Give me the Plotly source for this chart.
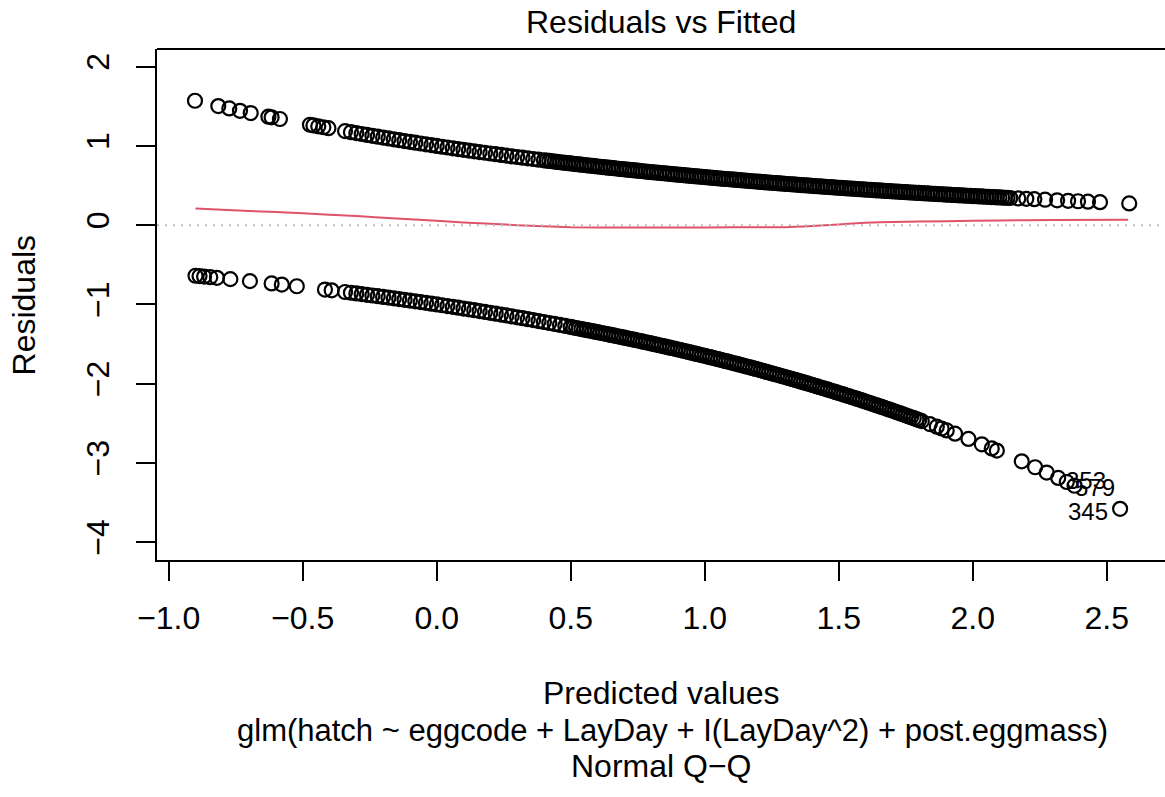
import plotly.graph_objects as go

# ---- data ----
upper_fitted = [
    -0.902, -0.815, -0.774, -0.734, -0.694, -0.628, -0.616, -0.585, -0.473, -0.460,
    -0.442, -0.423, -0.404, -0.342, -0.32, -0.30, -0.28, -0.26, -0.24, -0.22,
    -0.20, -0.18, -0.16, -0.14, -0.12, -0.10, -0.08, -0.06, -0.04, -0.02,
    0.00, 0.02, 0.04, 0.06, 0.08, 0.10, 0.12, 0.14, 0.16, 0.18,
    0.20, 0.22, 0.24, 0.26, 0.28, 0.30, 0.32, 0.34, 0.36, 0.38,
    0.40, 0.41, 0.42, 0.43, 0.44, 0.45, 0.46, 0.47, 0.48, 0.49,
    0.50, 0.51, 0.52, 0.53, 0.54, 0.55, 0.56, 0.57, 0.58, 0.59,
    0.60, 0.61, 0.62, 0.63, 0.64, 0.65, 0.66, 0.67, 0.68, 0.69,
    0.70, 0.71, 0.72, 0.73, 0.74, 0.75, 0.76, 0.77, 0.78, 0.79,
    0.80, 0.81, 0.82, 0.83, 0.84, 0.85, 0.86, 0.87, 0.88, 0.89,
    0.90, 0.91, 0.92, 0.93, 0.94, 0.95, 0.96, 0.97, 0.98, 0.99,
    1.00, 1.01, 1.02, 1.03, 1.04, 1.05, 1.06, 1.07, 1.08, 1.09,
    1.10, 1.11, 1.12, 1.13, 1.14, 1.15, 1.16, 1.17, 1.18, 1.19,
    1.20, 1.21, 1.22, 1.23, 1.24, 1.25, 1.26, 1.27, 1.28, 1.29,
    1.30, 1.31, 1.32, 1.33, 1.34, 1.35, 1.36, 1.37, 1.38, 1.39,
    1.40, 1.41, 1.42, 1.43, 1.44, 1.45, 1.46, 1.47, 1.48, 1.49,
    1.50, 1.51, 1.52, 1.53, 1.54, 1.55, 1.56, 1.57, 1.58, 1.59,
    1.60, 1.61, 1.62, 1.63, 1.64, 1.65, 1.66, 1.67, 1.68, 1.69,
    1.70, 1.71, 1.72, 1.73, 1.74, 1.75, 1.76, 1.77, 1.78, 1.79,
    1.80, 1.81, 1.82, 1.83, 1.84, 1.85, 1.86, 1.87, 1.88, 1.89,
    1.90, 1.91, 1.92, 1.93, 1.94, 1.95, 1.96, 1.97, 1.98, 1.99,
    2.00, 2.01, 2.02, 2.03, 2.04, 2.05, 2.06, 2.07, 2.08, 2.09,
    2.10, 2.11, 2.12, 2.13, 2.14, 2.17, 2.20, 2.23, 2.27, 2.315,
    2.356, 2.393, 2.43, 2.475, 2.584,
]
upper_resid = [
    1.570, 1.503, 1.473, 1.443, 1.415, 1.369, 1.361, 1.340, 1.267, 1.259,
    1.247, 1.236, 1.224, 1.187, 1.1735, 1.1618, 1.1503, 1.1388, 1.1275, 1.1163,
    1.1052, 1.0942, 1.0833, 1.0725, 1.0618, 1.0513, 1.0408, 1.0305, 1.0202, 1.0101,
    1.0000, 0.9900, 0.9802, 0.9704, 0.9608, 0.9512, 0.9418, 0.9324, 0.9231, 0.9139,
    0.9048, 0.8958, 0.8869, 0.8781, 0.8694, 0.8607, 0.8521, 0.8437, 0.8353, 0.8270,
    0.8187, 0.8146, 0.8106, 0.8065, 0.8025, 0.7985, 0.7945, 0.7905, 0.7866, 0.7827,
    0.7788, 0.7749, 0.7711, 0.7672, 0.7634, 0.7596, 0.7558, 0.7520, 0.7483, 0.7445,
    0.7408, 0.7371, 0.7334, 0.7297, 0.7261, 0.7225, 0.7189, 0.7153, 0.7118, 0.7082,
    0.7047, 0.7012, 0.6977, 0.6942, 0.6907, 0.6873, 0.6839, 0.6805, 0.6771, 0.6737,
    0.6703, 0.6670, 0.6637, 0.6603, 0.6570, 0.6538, 0.6505, 0.6473, 0.6440, 0.6408,
    0.6376, 0.6345, 0.6313, 0.6282, 0.6250, 0.6219, 0.6188, 0.6157, 0.6126, 0.6096,
    0.6065, 0.6035, 0.6005, 0.5975, 0.5945, 0.5916, 0.5886, 0.5857, 0.5827, 0.5798,
    0.5769, 0.5741, 0.5712, 0.5684, 0.5655, 0.5627, 0.5599, 0.5571, 0.5543, 0.5516,
    0.5488, 0.5461, 0.5434, 0.5407, 0.5379, 0.5353, 0.5326, 0.5300, 0.5273, 0.5247,
    0.5220, 0.5195, 0.5169, 0.5143, 0.5117, 0.5092, 0.5066, 0.5041, 0.5016, 0.4991,
    0.4966, 0.4941, 0.4916, 0.4892, 0.4868, 0.4844, 0.4819, 0.4795, 0.4771, 0.4748,
    0.4724, 0.4701, 0.4677, 0.4654, 0.4630, 0.4607, 0.4584, 0.4561, 0.4538, 0.4516,
    0.4493, 0.4471, 0.4449, 0.4427, 0.4404, 0.4382, 0.4360, 0.4339, 0.4317, 0.4296,
    0.4274, 0.4253, 0.4232, 0.4211, 0.4190, 0.4169, 0.4148, 0.4128, 0.4107, 0.4086,
    0.4066, 0.4046, 0.4025, 0.4005, 0.3985, 0.3966, 0.3946, 0.3926, 0.3906, 0.3887,
    0.3867, 0.3848, 0.3829, 0.3810, 0.3791, 0.3772, 0.3753, 0.3735, 0.3716, 0.3698,
    0.3679, 0.3661, 0.3642, 0.3624, 0.3606, 0.3588, 0.3570, 0.3553, 0.3535, 0.3517,
    0.3499, 0.3482, 0.3465, 0.3448, 0.3430, 0.3379, 0.3329, 0.3280, 0.3214, 0.3143,
    0.3079, 0.3023, 0.2967, 0.2901, 0.2747,
]

lower_fitted = [
    -0.90, -0.885, -0.868, -0.845, -0.82, -0.77, -0.697, -0.616, -0.578, -0.522,
    -0.417, -0.392, -0.342, -0.32, -0.30, -0.28, -0.26, -0.24, -0.22, -0.20,
    -0.18, -0.16, -0.14, -0.12, -0.10, -0.08, -0.06, -0.04, -0.02, 0.00,
    0.02, 0.04, 0.06, 0.08, 0.10, 0.12, 0.14, 0.16, 0.18, 0.20,
    0.22, 0.24, 0.26, 0.28, 0.30, 0.32, 0.34, 0.36, 0.38, 0.40,
    0.42, 0.44, 0.46, 0.48, 0.50, 0.51, 0.52, 0.53, 0.54, 0.55,
    0.56, 0.57, 0.58, 0.59, 0.60, 0.61, 0.62, 0.63, 0.64, 0.65,
    0.66, 0.67, 0.68, 0.69, 0.70, 0.71, 0.72, 0.73, 0.74, 0.75,
    0.76, 0.77, 0.78, 0.79, 0.80, 0.81, 0.82, 0.83, 0.84, 0.85,
    0.86, 0.87, 0.88, 0.89, 0.90, 0.91, 0.92, 0.93, 0.94, 0.95,
    0.96, 0.97, 0.98, 0.99, 1.00, 1.01, 1.02, 1.03, 1.04, 1.05,
    1.06, 1.07, 1.08, 1.09, 1.10, 1.11, 1.12, 1.13, 1.14, 1.15,
    1.16, 1.17, 1.18, 1.19, 1.20, 1.21, 1.22, 1.23, 1.24, 1.25,
    1.26, 1.27, 1.28, 1.29, 1.30, 1.31, 1.32, 1.33, 1.34, 1.35,
    1.36, 1.37, 1.38, 1.39, 1.40, 1.41, 1.42, 1.43, 1.44, 1.45,
    1.46, 1.47, 1.48, 1.49, 1.50, 1.51, 1.52, 1.53, 1.54, 1.55,
    1.56, 1.57, 1.58, 1.59, 1.60, 1.61, 1.62, 1.63, 1.64, 1.65,
    1.66, 1.67, 1.68, 1.69, 1.70, 1.71, 1.72, 1.73, 1.74, 1.75,
    1.76, 1.77, 1.78, 1.79, 1.80, 1.81, 1.84, 1.866, 1.884, 1.903,
    1.934, 1.984, 2.034, 2.071, 2.09, 2.183, 2.233, 2.276, 2.319, 2.351,
    2.38, 2.55,
]
lower_resid = [
    -0.6376, -0.6424, -0.6479, -0.6554, -0.6637, -0.6805, -0.7057, -0.7349, -0.7490, -0.7703,
    -0.8118, -0.8220, -0.8428, -0.8521, -0.8607, -0.8694, -0.8781, -0.8869, -0.8958, -0.9048,
    -0.9139, -0.9231, -0.9324, -0.9418, -0.9512, -0.9608, -0.9704, -0.9802, -0.9900, -1.0000,
    -1.0101, -1.0202, -1.0305, -1.0408, -1.0513, -1.0618, -1.0725, -1.0833, -1.0942, -1.1052,
    -1.1163, -1.1275, -1.1388, -1.1503, -1.1618, -1.1735, -1.1853, -1.1972, -1.2092, -1.2214,
    -1.2337, -1.2461, -1.2586, -1.2712, -1.2840, -1.2905, -1.2969, -1.3034, -1.3100, -1.3165,
    -1.3231, -1.3298, -1.3364, -1.3431, -1.3499, -1.3566, -1.3634, -1.3703, -1.3771, -1.3840,
    -1.3910, -1.3980, -1.4049, -1.4120, -1.4191, -1.4262, -1.4333, -1.4405, -1.4477, -1.4550,
    -1.4623, -1.4696, -1.4770, -1.4844, -1.4918, -1.4993, -1.5068, -1.5144, -1.5220, -1.5296,
    -1.5373, -1.5450, -1.5527, -1.5605, -1.5683, -1.5762, -1.5841, -1.5920, -1.6000, -1.6080,
    -1.6161, -1.6242, -1.6323, -1.6405, -1.6487, -1.6570, -1.6653, -1.6736, -1.6820, -1.6904,
    -1.6989, -1.7074, -1.7160, -1.7246, -1.7333, -1.7420, -1.7507, -1.7595, -1.7683, -1.7771,
    -1.7860, -1.7950, -1.8040, -1.8130, -1.8221, -1.8312, -1.8404, -1.8496, -1.8589, -1.8682,
    -1.8776, -1.8870, -1.8965, -1.9060, -1.9155, -1.9251, -1.9348, -1.9445, -1.9542, -1.9640,
    -1.9739, -1.9838, -1.9937, -2.0037, -2.0138, -2.0239, -2.0340, -2.0442, -2.0544, -2.0647,
    -2.0751, -2.0855, -2.0959, -2.1064, -2.1170, -2.1276, -2.1383, -2.1490, -2.1598, -2.1706,
    -2.1815, -2.1924, -2.2034, -2.2144, -2.2255, -2.2367, -2.2479, -2.2592, -2.2705, -2.2819,
    -2.2933, -2.3048, -2.3164, -2.3280, -2.3396, -2.3514, -2.3632, -2.3750, -2.3869, -2.3989,
    -2.4109, -2.4230, -2.4351, -2.4473, -2.4596, -2.4719, -2.5093, -2.5421, -2.5651, -2.5896,
    -2.6300, -2.6966, -2.7649, -2.8164, -2.8434, -2.9787, -3.0541, -3.1205, -3.1884, -3.2398,
    -3.2871, -3.5787,
]

smooth_x = [-0.90, -0.70, -0.50, -0.30, -0.10, 0.10, 0.30, 0.50, 0.70, 0.90,
            1.10, 1.30, 1.40, 1.50, 1.60, 1.70, 1.90, 2.10, 2.30, 2.58]
smooth_y = [0.21, 0.18, 0.15, 0.115, 0.075, 0.035, 0.0, -0.025, -0.03, -0.03,
            -0.025, -0.025, -0.01, 0.01, 0.03, 0.04, 0.05, 0.06, 0.065, 0.07]

id_labels = ["353", "579", "345"]
id_label_x = [2.505, 2.54, 2.513]
id_label_y = [-3.215, -3.315, -3.618]

x_tickvals = [-1.0, -0.5, 0.0, 0.5, 1.0, 1.5, 2.0, 2.5]
x_ticktext = ["\u22121.0", "\u22120.5", "0.0", "0.5", "1.0", "1.5", "2.0", "2.5"]
y_tickvals = [-4, -3, -2, -1, 0, 1, 2]
y_ticktext = ["\u22124", "\u22123", "\u22122", "\u22121", "0", "1", "2"]

title_text = "Residuals vs Fitted"
x_title = "Predicted values"
sub_title = "glm(hatch ~ eggcode + LayDay + I(LayDay^2) + post.eggmass)"
caption_text = "Normal Q\u2212Q"
y_title = "Residuals"

FONT = "Liberation Sans, Arial, Helvetica, sans-serif"
BIG = 32

fig = go.Figure()

pts_x = upper_fitted + lower_fitted
pts_y = upper_resid + lower_resid
fig.add_trace(go.Scatter(
    x=pts_x, y=pts_y, mode="markers",
    marker=dict(symbol="circle-open", size=14, color="black",
                line=dict(width=2.2, color="black")),
    hoverinfo="skip", showlegend=False, cliponaxis=False,
))

fig.add_trace(go.Scatter(
    x=smooth_x, y=smooth_y, mode="lines",
    line=dict(color="#DF536B", width=2, shape="spline", smoothing=0.6),
    hoverinfo="skip", showlegend=False,
))

# dotted reference line at 0
fig.add_shape(type="line", xref="paper", yref="y", x0=0, x1=1, y0=0, y1=0,
              line=dict(color="#BEBEBE", width=2, dash="2px,6px"), layer="above")
# top border of the box
fig.add_shape(type="line", xref="paper", yref="paper", x0=0, x1=1, y0=1, y1=1,
              line=dict(color="black", width=2))

annotations = []
for lab, lx, ly in zip(id_labels, id_label_x, id_label_y):
    annotations.append(dict(x=lx, y=ly, xref="x", yref="y", text=lab,
                            showarrow=False, xanchor="right", yanchor="middle",
                            font=dict(family=FONT, size=24, color="black")))

annotations += [
    dict(x=0.5, y=1.0528, xref="paper", yref="paper", text=title_text, showarrow=False,
         xanchor="center", yanchor="middle", font=dict(family=FONT, size=BIG, color="black")),
    dict(x=0.5, y=-0.2603, xref="paper", yref="paper", text=x_title, showarrow=False,
         xanchor="center", yanchor="middle", font=dict(family=FONT, size=BIG, color="black")),
    dict(x=0.511, y=-0.3327, xref="paper", yref="paper", text=sub_title, showarrow=False,
         xanchor="center", yanchor="middle", font=dict(family=FONT, size=31, color="black")),
    dict(x=0.5, y=-0.4031, xref="paper", yref="paper", text=caption_text, showarrow=False,
         xanchor="center", yanchor="middle", font=dict(family=FONT, size=BIG, color="black")),
    dict(x=-0.132, y=0.5, xref="paper", yref="paper", text=y_title, showarrow=False,
         textangle=-90, xanchor="center", yanchor="middle",
         font=dict(family=FONT, size=BIG, color="black")),
]

fig.update_layout(
    width=1165, height=797,
    margin=dict(l=157, r=0, t=49, b=237, pad=0),
    paper_bgcolor="white", plot_bgcolor="white",
    annotations=annotations,
    font=dict(family=FONT, size=BIG, color="black"),
    xaxis=dict(range=[-1.0437, 2.7175], showgrid=False, zeroline=False,
               showline=True, linecolor="black", linewidth=2,
               ticks="outside", ticklen=19, tickwidth=2, tickcolor="black",
               tickvals=x_tickvals, ticktext=x_ticktext,
               tickfont=dict(family=FONT, size=BIG, color="black"),
               ticklabelstandoff=10),
    yaxis=dict(range=[-4.224, 2.223], showgrid=False, zeroline=False,
               showline=True, linecolor="black", linewidth=2,
               ticks="outside", ticklen=19, tickwidth=2, tickcolor="black",
               tickvals=y_tickvals, ticktext=y_ticktext, tickangle=-90,
               tickfont=dict(family=FONT, size=BIG, color="black"),
               ticklabelstandoff=14),
)

fig.write_html(
    "out.html",
    config={"displayModeBar": False},
    post_script="document.body.style.margin='0px';document.body.style.overflow='hidden';",
)
